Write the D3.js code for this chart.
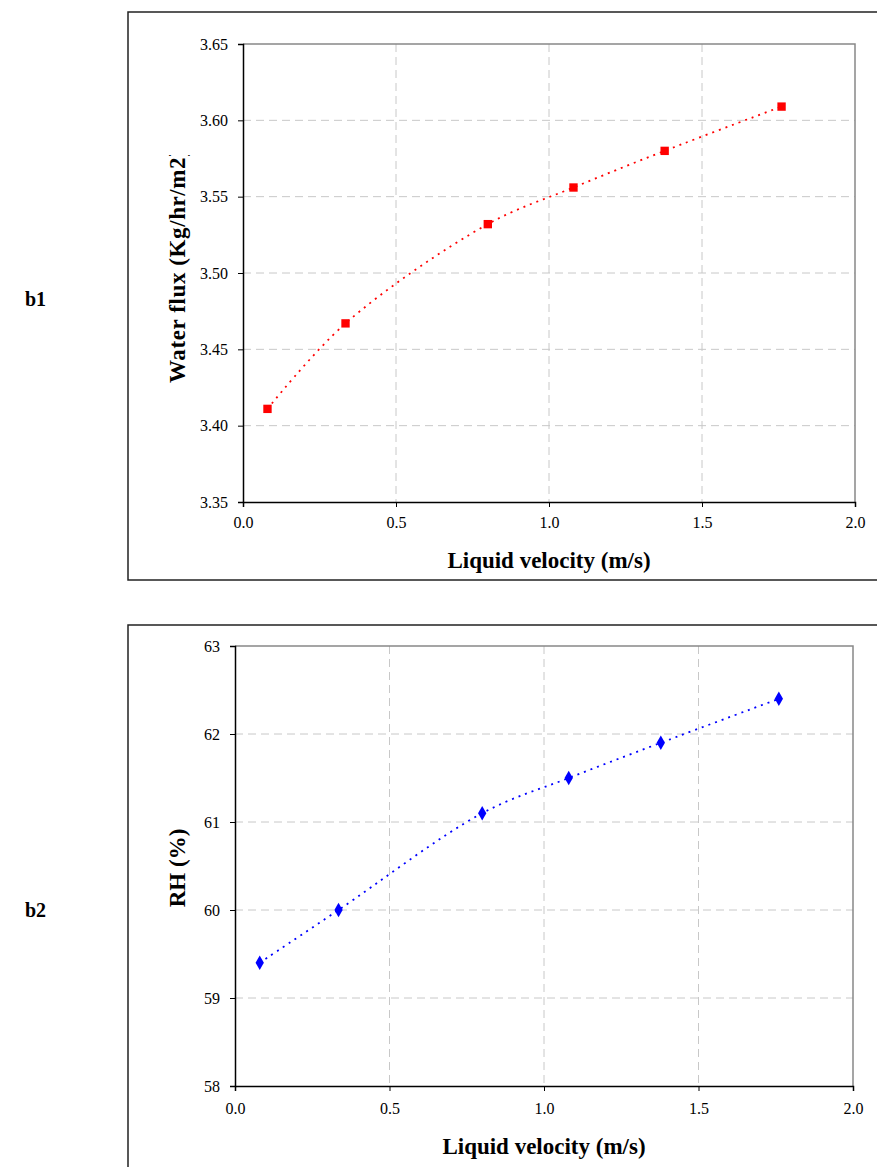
<!DOCTYPE html>
<html>
<head>
<meta charset="utf-8">
<script src="https://cdn.jsdelivr.net/npm/d3@7"></script>
<style>
  body { margin: 0; background: #fff; }
  svg { display: block; }
  text { font-family: "Liberation Serif", "Times New Roman", serif; fill: #000; }
</style>
</head>
<body>
<div id="chart"></div>
<script>
// data
const velocity = [0.08, 0.335, 0.80, 1.08, 1.378, 1.76];
const waterFlux = [3.411, 3.467, 3.532, 3.556, 3.580, 3.609];
const rh = [59.4, 60.0, 61.1, 61.5, 61.9, 62.4];

const xTicks = [0, 0.5, 1.0, 1.5, 2.0];
const fluxTicks = [3.35, 3.40, 3.45, 3.50, 3.55, 3.60, 3.65];
const rhTicks = [58, 59, 60, 61, 62, 63];

const width = 877;
const height = 1167;

const svg = d3.select('#chart')
    .append('svg')
    .attr('width', width)
    .attr('height', height);

const defs = svg.append('defs');

// 패널 하나 그리기
function drawPanel(cfg) {
    const g = svg.append('g');

    // outer frame (runs off the page on one side)
    g.append('rect')
        .attr('x', cfg.box[0])
        .attr('y', cfg.box[1])
        .attr('width', cfg.box[2])
        .attr('height', cfg.box[3])
        .attr('fill', 'none')
        .attr('stroke', '#222')
        .attr('stroke-width', 1.5);

    // panel tag
    g.append('text')
        .attr('x', 25)
        .attr('y', cfg.tagY)
        .style('font-size', '20px')
        .style('font-weight', 'bold')
        .text(cfg.tag);

    const x = d3.scaleLinear().domain([0, 2]).range([cfg.left, cfg.right]);
    const y = d3.scaleLinear().domain(cfg.yDomain).range([cfg.bottom, cfg.top]);

    // grid
    g.append('g')
        .selectAll('line')
        .data(xTicks.slice(1, -1))
        .join('line')
        .attr('x1', d => x(d)).attr('x2', d => x(d))
        .attr('y1', cfg.top).attr('y2', cfg.bottom)
        .attr('stroke', '#c8c8c8')
        .attr('stroke-dasharray', '8,5');
    g.append('g')
        .selectAll('line')
        .data(cfg.yTicks.slice(1, -1))
        .join('line')
        .attr('x1', cfg.left).attr('x2', cfg.right)
        .attr('y1', d => y(d)).attr('y2', d => y(d))
        .attr('stroke', '#c8c8c8')
        .attr('stroke-dasharray', '8,5');

    // top / right frame of plot area
    g.append('path')
        .attr('d', `M${cfg.left},${cfg.top}H${cfg.right}V${cfg.bottom}`)
        .attr('fill', 'none')
        .attr('stroke', '#888')
        .attr('stroke-width', 1.5);

    // axes
    const xAxis = g.append('g')
        .attr('transform', `translate(0,${cfg.bottom})`)
        .call(d3.axisBottom(x).tickValues(xTicks).tickFormat(d3.format('.1f')).tickSize(5).tickPadding(cfg.xPad));
    const yAxis = g.append('g')
        .attr('transform', `translate(${cfg.left},0)`)
        .call(d3.axisLeft(y).tickValues(cfg.yTicks).tickFormat(cfg.yFormat).tickSize(5).tickPadding(10));

    [xAxis, yAxis].forEach(a => {
        a.attr('font-family', null);
        a.select('.domain').attr('stroke', '#000').attr('stroke-width', 1.5);
        a.selectAll('.tick line').attr('stroke', '#000');
        a.selectAll('.tick text')
            .style('font-family', '"Liberation Serif", serif')
            .style('font-size', '16px')
            .attr('fill', '#000');
    });

    // axis titles
    g.append('text')
        .attr('x', (cfg.left + cfg.right) / 2)
        .attr('y', cfg.bottom + cfg.xTitleOff)
        .attr('text-anchor', 'middle')
        .style('font-size', '23px')
        .style('font-weight', 'bold')
        .text('Liquid velocity (m/s)');

    const tg = g.append('g');
    if (cfg.yTitleClip) {
        defs.append('clipPath').attr('id', cfg.tag + 'clip')
            .append('rect')
            .attr('x', 0).attr('y', cfg.yTitleClip)
            .attr('width', width).attr('height', height);
        tg.attr('clip-path', `url(#${cfg.tag}clip)`);
    }
    tg.append('text')
        .attr('transform', `translate(${cfg.yTitleX},${cfg.yTitleY}) rotate(-90)`)
        .attr('text-anchor', cfg.yTitleAnchor)
        .style('font-size', '23px')
        .style('font-weight', 'bold')
        .style('letter-spacing', cfg.yTitleSpacing)
        .text(cfg.yTitle);

    // series
    const pts = velocity.map((v, i) => [v, cfg.values[i]]);
    const line = d3.line()
        .x(d => x(d[0]))
        .y(d => y(d[1]))
        .curve(d3.curveCatmullRom);

    g.append('path')
        .datum(pts)
        .attr('d', line)
        .attr('fill', 'none')
        .attr('stroke', cfg.color)
        .attr('stroke-width', 1.8)
        .attr('stroke-dasharray', '2,5');

    g.append('g')
        .selectAll('path')
        .data(pts)
        .join('path')
        .attr('transform', d => `translate(${x(d[0])},${y(d[1])})`)
        .attr('d', d3.symbol().type(cfg.symbol).size(cfg.symbolSize))
        .attr('fill', cfg.color);
}

drawPanel({
    tag: 'b1', tagY: 306,
    box: [128, 12, 760, 568],
    left: 243, right: 855, top: 44, bottom: 502,
    xPad: 10, xTitleOff: 66,
    yDomain: [3.35, 3.65], yTicks: fluxTicks, yFormat: d3.format('.2f'),
    yTitle: 'Water flux (Kg/hr/m2)', yTitleX: 185, yTitleY: 383,
    yTitleAnchor: 'start', yTitleSpacing: '0.6px', yTitleClip: 155,
    values: waterFlux, color: '#ff0000',
    symbol: d3.symbolSquare, symbolSize: 70
});

drawPanel({
    tag: 'b2', tagY: 917,
    box: [128, 625, 760, 560],
    left: 235, right: 853, top: 646, bottom: 1086,
    xPad: 12, xTitleOff: 68,
    yDomain: [58, 63], yTicks: rhTicks, yFormat: d3.format('d'),
    yTitle: 'RH (%)', yTitleX: 185, yTitleY: 868,
    yTitleAnchor: 'middle', yTitleSpacing: '0px', yTitleClip: null,
    values: rh, color: '#0000ff',
    symbol: d3.symbolDiamond, symbolSize: 60
});
</script>
</body>
</html>
